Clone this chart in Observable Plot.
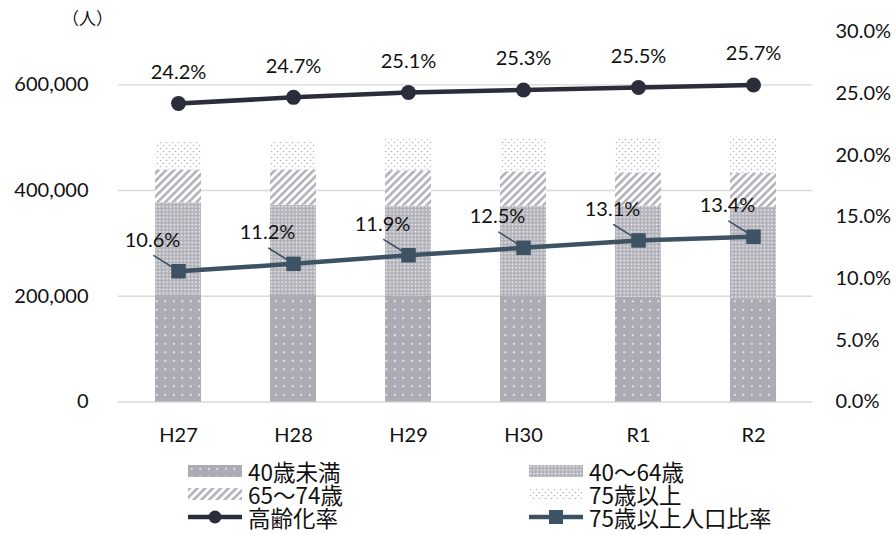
<!DOCTYPE html>
<html><head><meta charset="utf-8">
<script src="https://cdn.jsdelivr.net/npm/d3@7"></script>
<script src="https://cdn.jsdelivr.net/npm/@observablehq/plot@0.6"></script>
<style>
body{margin:0;background:#fff;}
#wrap{position:relative;width:896px;height:535px;overflow:hidden;font-family:Lato,sans-serif;}
.leg{position:absolute;display:flex;align-items:center;font-family:"Noto Sans CJK JP",sans-serif;font-size:22.5px;color:#111;height:22px;white-space:nowrap;line-height:22px;}
.leg span{display:inline-block;height:22px;line-height:22px;overflow:visible;}
.leg svg{margin-right:6px;flex:none;}
</style></head><body>
<svg width="0" height="0" style="position:absolute">
<defs>
<pattern id="pA" width="8.5" height="8.5" patternUnits="userSpaceOnUse">
  <rect width="8.5" height="8.5" fill="#acabb3"/>
  <rect x="3" y="3" width="1.6" height="1.6" fill="#fff"/>
</pattern>
<pattern id="pB" width="3.6" height="3.6" patternUnits="userSpaceOnUse">
  <rect width="3.6" height="3.6" fill="#b1b0b8"/>
  <rect x="0.6" y="0.6" width="1.6" height="1.6" fill="#f3f3f5"/>
</pattern>
<pattern id="pC" width="5.5" height="5.5" patternUnits="userSpaceOnUse" patternTransform="rotate(45)">
  <rect width="5.5" height="5.5" fill="#fff"/>
  <rect width="2.6" height="5.5" fill="#b3b2ba"/>
</pattern>
<pattern id="pD" width="6" height="6" patternUnits="userSpaceOnUse">
  <rect width="6" height="6" fill="#fff"/>
  <circle cx="1.5" cy="1.5" r="0.8" fill="#b5b5bc"/>
  <circle cx="4.5" cy="4.5" r="0.8" fill="#b5b5bc"/>
</pattern>
</defs></svg>
<div id="wrap"></div>
<script>
// ---- data ----
const years = ["H27", "H28", "H29", "H30", "R1", "R2"];
const groups = ["40歳未満", "40～64歳", "65～74歳", "75歳以上"];
const under40 = [202000, 201500, 200500, 199500, 198000, 195500];
const age40to64 = [175000, 171000, 170000, 171000, 172500, 172500];
const age65to74 = [62000, 66500, 67000, 65000, 63000, 64500];
const age75plus = [52000, 55000, 58500, 61000, 67000, 68500];
const agingRate = [24.2, 24.7, 25.1, 25.3, 25.5, 25.7];
const over75Rate = [10.6, 11.2, 11.9, 12.5, 13.1, 13.4];
const leftTicks = [0, 200000, 400000, 600000];
const rightTicks = [0, 5, 10, 15, 20, 25, 30];
const lineNames = ["高齢化率", "75歳以上人口比率"];
const unitLabel = "（人）";

// ---- style ----
const Y_MAX = 700000, P_MAX = 30;
const toY = p => p / P_MAX * Y_MAX;
const fills = ["url(#pA)", "url(#pB)", "url(#pC)", "url(#pD)"];
const agingColor = "#2b2d3a";
const over75Color = "#3d5363";

const series = [under40, age40to64, age65to74, age75plus];
const barData = [];
years.forEach((yr, i) => groups.forEach((g, j) => barData.push({year: yr, group: g, value: series[j][i]})));
const lineData = years.map((yr, i) => ({year: yr, aging: agingRate[i], over75: over75Rate[i]}));

const chart = Plot.plot({
  width: 896, height: 455,
  marginLeft: 118, marginRight: 84, marginTop: 31.5, marginBottom: 53.5,
  x: {domain: years, paddingInner: 0.6, paddingOuter: 0.3, label: null},
  y: {domain: [0, Y_MAX], label: null},
  color: {domain: groups, range: fills},
  style: {fontFamily: "Lato, sans-serif", fontSize: "20px", color: "#111", background: "#fff"},
  marks: [
    Plot.gridY(leftTicks, {stroke: "#d9d9d9", strokeOpacity: 1, strokeWidth: 1.4}),
    Plot.barY(barData, {x: "year", y: "value", fill: "group"}),
    Plot.axisY(leftTicks, {tickSize: 0, tickPadding: 30, tickFormat: d3.format(","), label: null, fontSize: 20}),
    Plot.axisY(rightTicks.map(toY), {anchor: "right", tickSize: 0, tickPadding: 23, label: null, fontSize: 20,
      tickFormat: v => (v / Y_MAX * P_MAX).toFixed(1) + "%"}),
    Plot.axisX({tickSize: 0, tickPadding: 26, label: null, fontSize: 20}),
    Plot.line(lineData, {x: "year", y: d => toY(d.aging), stroke: agingColor, strokeWidth: 4.5}),
    Plot.dot(lineData, {x: "year", y: d => toY(d.aging), r: 7.5, fill: agingColor, stroke: "none"}),
    Plot.line(lineData, {x: "year", y: d => toY(d.over75), stroke: over75Color, strokeWidth: 4.5}),
    Plot.dot(lineData, {x: "year", y: d => toY(d.over75), r: 8.2, symbol: "square", fill: over75Color, stroke: "none"}),
    Plot.vector(lineData, {x: "year", y: d => toY(d.over75), length: 22, rotate: -58, anchor: "start", dx: -6, dy: -4,
      stroke: over75Color, strokeWidth: 1.6,
      shape: {draw(context, l) { context.moveTo(0, 0); context.lineTo(0, -l); }}}),
    Plot.text(lineData, {x: "year", y: d => toY(d.aging), text: d => d.aging.toFixed(1) + "%", dy: -31, fontSize: 20, fill: "#111"}),
    Plot.text(lineData, {x: "year", y: d => toY(d.over75), text: d => d.over75.toFixed(1) + "%", dx: -26, dy: -31, fontSize: 20, fill: "#111"}),
    Plot.text([unitLabel], {frameAnchor: "top-left", textAnchor: "middle", lineAnchor: "middle", dx: -31, dy: -12,
      fontFamily: "Noto Sans CJK JP", fontSize: 17, fill: "#111"})
  ]
});
const wrap = document.getElementById("wrap");
wrap.appendChild(chart);

// ---- legend ----
const legendItems = [
  {label: groups[0], kind: "bar", fill: fills[0], col: 0, row: 0},
  {label: groups[1], kind: "bar", fill: fills[1], col: 1, row: 0},
  {label: groups[2], kind: "bar", fill: fills[2], col: 0, row: 1},
  {label: groups[3], kind: "bar", fill: fills[3], col: 1, row: 1},
  {label: lineNames[0], kind: "circle", fill: agingColor, col: 0, row: 2},
  {label: lineNames[1], kind: "square", fill: over75Color, col: 1, row: 2}
];
const colX = [188, 529], rowY = [471, 494, 517];
for (const it of legendItems) {
  const div = document.createElement("div");
  div.className = "leg";
  div.style.left = colX[it.col] + "px";
  div.style.top = (rowY[it.row] - 11) + "px";
  let sw;
  if (it.kind === "bar") {
    sw = `<svg width="54" height="12"><rect x="0" y="0" width="54" height="12" fill="${it.fill}"/></svg>`;
  } else if (it.kind === "circle") {
    sw = `<svg width="54" height="16"><line x1="0" x2="54" y1="8" y2="8" stroke="${it.fill}" stroke-width="4.5"/><circle cx="27" cy="8" r="6.5" fill="${it.fill}"/></svg>`;
  } else {
    sw = `<svg width="54" height="16"><line x1="0" x2="54" y1="8" y2="8" stroke="${it.fill}" stroke-width="4.5"/><rect x="20" y="1" width="14" height="14" fill="${it.fill}"/></svg>`;
  }
  div.innerHTML = sw + `<span>${it.label}</span>`;
  wrap.appendChild(div);
}
</script>
</body></html>
